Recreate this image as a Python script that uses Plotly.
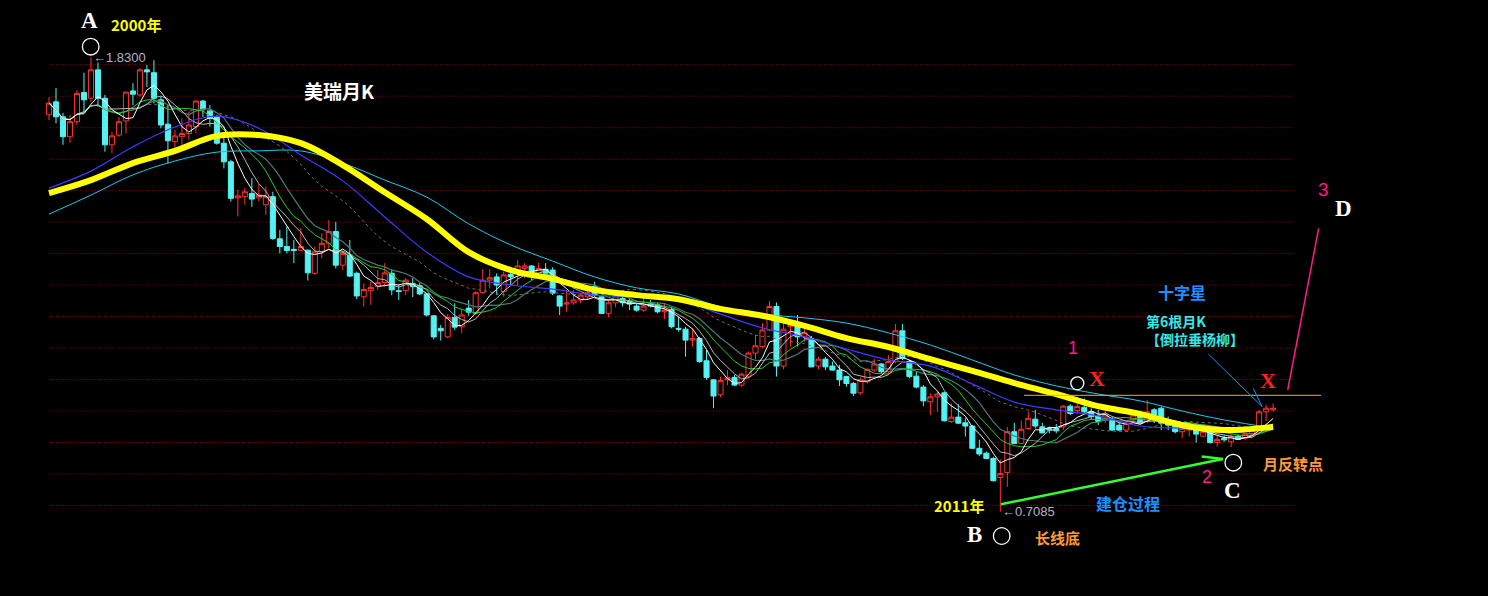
import plotly.graph_objects as go
import pandas as pd

# ---------------- data (USD/CHF monthly) ----------------
opens = [1.688,1.720,1.683,1.634,1.671,1.743,1.729,1.799,1.729,1.614,
         1.638,1.673,1.747,1.737,1.799,1.792,1.725,1.665,1.622,1.634,
         1.642,1.659,1.722,1.698,1.683,1.618,1.572,1.483,1.486,1.494,
         1.483,1.466,1.486,1.382,1.363,1.356,1.354,1.354,1.297,1.350,
         1.371,1.400,1.317,1.342,1.297,1.239,1.254,1.264,1.274,1.297,
         1.254,1.254,1.272,1.266,1.246,1.192,1.161,1.140,1.188,1.165,
         1.211,1.198,1.249,1.280,1.288,1.252,1.294,1.298,1.309,1.315,
         1.293,1.307,1.305,1.241,1.221,1.224,1.231,1.239,1.264,1.239,
         1.198,1.224,1.235,1.227,1.216,1.206,1.221,1.219,1.202,1.208,
         1.161,1.159,1.132,1.136,1.081,1.034,0.997,1.034,1.040,1.021,
         1.043,1.100,1.116,1.157,1.215,1.068,1.165,1.167,1.140,1.136,
         1.068,1.085,1.068,1.058,1.042,1.025,1.002,1.029,1.058,1.073,
         1.054,1.079,1.155,1.079,1.043,1.016,0.980,0.992,1.002,0.931,
         0.942,0.928,0.920,0.865,0.853,0.840,0.793,0.805,0.906,0.877,
         0.914,0.937,0.918,0.914,0.914,0.918,0.969,0.958,0.966,0.955,
         0.945,0.935,0.935,0.922,0.910,0.935,0.947,0.931,0.960,0.964,
         0.931,0.920,0.906,0.910,0.910,0.895,0.906,0.879,0.890,0.881,
         0.895,0.890,0.900,0.918,0.955,0.960]
highs = [1.732,1.754,1.693,1.688,1.749,1.792,1.830,1.817,1.737,1.646,
         1.683,1.745,1.766,1.803,1.811,1.823,1.733,1.712,1.651,1.679,
         1.696,1.725,1.725,1.712,1.688,1.638,1.577,1.503,1.507,1.532,
         1.517,1.511,1.498,1.404,1.412,1.379,1.409,1.356,1.363,1.396,
         1.428,1.424,1.354,1.379,1.301,1.272,1.276,1.305,1.322,1.307,
         1.268,1.285,1.285,1.274,1.248,1.194,1.169,1.196,1.223,1.208,
         1.231,1.252,1.307,1.307,1.297,1.301,1.301,1.330,1.322,1.317,
         1.323,1.322,1.312,1.243,1.256,1.256,1.248,1.256,1.276,1.243,
         1.231,1.243,1.243,1.235,1.221,1.235,1.231,1.224,1.224,1.213,
         1.190,1.165,1.161,1.140,1.108,1.036,1.042,1.058,1.046,1.051,
         1.104,1.145,1.174,1.229,1.225,1.174,1.182,1.194,1.161,1.142,
         1.091,1.090,1.079,1.071,1.044,1.029,1.040,1.062,1.085,1.075,
         1.095,1.172,1.172,1.083,1.054,1.021,1.001,1.005,1.005,0.976,
         0.974,0.939,0.922,0.886,0.857,0.844,0.838,0.918,0.928,0.933,
         0.955,0.960,0.928,0.918,0.925,0.972,0.974,0.992,0.988,0.964,
         0.960,0.960,0.943,0.927,0.931,0.951,0.955,0.984,0.964,0.968,
         0.943,0.922,0.920,0.927,0.918,0.914,0.910,0.895,0.898,0.900,
         0.900,0.906,0.915,0.960,0.972,0.976]
lows = [1.675,1.667,1.614,1.619,1.663,1.692,1.720,1.708,1.597,1.593,
        1.634,1.642,1.712,1.733,1.757,1.716,1.655,1.568,1.605,1.614,
        1.626,1.642,1.683,1.659,1.614,1.556,1.474,1.437,1.466,1.461,
        1.474,1.441,1.379,1.346,1.346,1.322,1.352,1.279,1.293,1.334,
        1.359,1.309,1.305,1.288,1.233,1.215,1.219,1.256,1.264,1.243,
        1.231,1.243,1.238,1.243,1.190,1.134,1.131,1.137,1.157,1.149,
        1.192,1.194,1.246,1.260,1.243,1.239,1.268,1.268,1.285,1.280,
        1.288,1.288,1.243,1.194,1.202,1.219,1.223,1.231,1.239,1.196,
        1.188,1.213,1.215,1.206,1.202,1.202,1.213,1.198,1.184,1.161,
        1.153,1.091,1.116,1.076,1.034,0.964,0.991,1.021,1.019,1.017,
        1.038,1.085,1.112,1.155,1.042,1.060,1.116,1.116,1.128,1.065,
        1.060,1.058,1.057,1.019,1.017,0.994,0.997,1.025,1.054,1.050,
        1.046,1.075,1.083,1.038,1.013,0.969,0.947,0.955,0.931,0.928,
        0.925,0.894,0.863,0.846,0.838,0.783,0.7085,0.770,0.876,0.876,
        0.910,0.914,0.902,0.902,0.902,0.910,0.947,0.951,0.951,0.935,
        0.922,0.927,0.908,0.908,0.906,0.927,0.925,0.927,0.927,0.910,
        0.910,0.902,0.890,0.894,0.879,0.892,0.877,0.869,0.881,0.868,
        0.886,0.886,0.895,0.914,0.932,0.955]
closes = [1.717,1.683,1.634,1.671,1.741,1.725,1.799,1.729,1.614,1.636,
          1.671,1.744,1.739,1.799,1.794,1.729,1.663,1.624,1.636,1.642,
          1.663,1.722,1.702,1.679,1.618,1.572,1.482,1.488,1.498,1.480,
          1.490,1.486,1.383,1.363,1.353,1.353,1.363,1.298,1.350,1.371,
          1.400,1.317,1.346,1.290,1.241,1.257,1.262,1.274,1.298,1.256,
          1.252,1.280,1.264,1.246,1.194,1.140,1.155,1.188,1.164,1.194,
          1.201,1.249,1.280,1.286,1.268,1.293,1.288,1.315,1.315,1.297,
          1.309,1.297,1.248,1.216,1.224,1.231,1.243,1.249,1.243,1.198,
          1.224,1.241,1.224,1.221,1.206,1.216,1.216,1.202,1.206,1.165,
          1.159,1.132,1.136,1.079,1.040,0.994,1.032,1.040,1.021,1.048,
          1.100,1.118,1.157,1.215,1.068,1.159,1.169,1.140,1.150,1.066,
          1.085,1.066,1.058,1.034,1.025,1.001,1.034,1.060,1.073,1.054,
          1.079,1.155,1.087,1.042,1.016,0.982,0.992,0.999,0.933,0.942,
          0.927,0.920,0.865,0.851,0.840,0.785,0.803,0.906,0.877,0.912,
          0.939,0.920,0.903,0.910,0.908,0.969,0.951,0.968,0.955,0.943,
          0.931,0.947,0.910,0.910,0.927,0.947,0.927,0.955,0.947,0.927,
          0.922,0.906,0.914,0.914,0.900,0.906,0.879,0.887,0.886,0.895,
          0.887,0.900,0.910,0.955,0.964,0.964]

ma_idx = [0, 6, 12, 18, 24, 30, 36, 42, 48, 54, 60, 66, 72, 78, 84, 90, 96, 102,
          108, 114, 120, 126, 132, 138, 144, 150, 156, 162, 168, 175]
ma_yellow = [1.495, 1.527, 1.569, 1.599, 1.636, 1.638, 1.618, 1.564, 1.497, 1.431,
             1.349, 1.305, 1.283, 1.256, 1.243, 1.233, 1.209, 1.192, 1.167, 1.137,
             1.115, 1.085, 1.056, 1.026, 0.999, 0.969, 0.950, 0.922, 0.910, 0.918]
ma_blue = [1.507, 1.549, 1.609, 1.658, 1.685, 1.655, 1.589, 1.525, 1.436, 1.349,
           1.288, 1.268, 1.258, 1.243, 1.238, 1.231, 1.196, 1.162, 1.140, 1.110,
           1.083, 1.068, 1.024, 0.979, 0.960, 0.945, 0.920, 0.915, 0.915, 0.918]
ma_cyan = [1.443, 1.490, 1.540, 1.574, 1.596, 1.599, 1.599, 1.569, 1.527, 1.485,
           1.419, 1.367, 1.327, 1.288, 1.261, 1.246, 1.214, 1.196, 1.187, 1.174,
           1.150, 1.120, 1.083, 1.046, 1.019, 0.999, 0.982, 0.957, 0.935, 0.915]

idx = list(range(len(closes)))
cs = pd.Series(closes)
short_mas = [  # (period, colour, width, dash)
    (24, "#6e6e6e", 1, "dot"),
    (13, "#4d7878", 1.2, "solid"),
    (10, "#1fd21f", 1, "solid"),
    (7, "#b8b8b8", 1, "solid"),
    (5, "#ffffff", 1, "solid"),
]

W, H = 1488, 596
def px(x):
    return x / W
def py(y):
    return 1 - y / H

fig = go.Figure()

fig.add_trace(go.Candlestick(
    x=idx, open=opens, high=highs, low=lows, close=closes,
    increasing=dict(line=dict(color="#ff3232", width=1), fillcolor="#000000"),
    decreasing=dict(line=dict(color="#54f2f2", width=1), fillcolor="#54f2f2"),
    whiskerwidth=0, showlegend=False, hoverinfo="skip"))

for per, col, wd, ds in short_mas:
    fig.add_trace(go.Scatter(x=idx, y=cs.rolling(per, min_periods=1).mean(),
                             mode="lines", line=dict(color=col, width=wd, dash=ds),
                             showlegend=False, hoverinfo="skip"))

fig.add_trace(go.Scatter(x=ma_idx, y=ma_cyan, mode="lines",
                         line=dict(color="#22c8ee", width=1, shape="spline"),
                         showlegend=False, hoverinfo="skip"))
fig.add_trace(go.Scatter(x=ma_idx, y=ma_blue, mode="lines",
                         line=dict(color="#3c3cff", width=1.2, shape="spline"),
                         showlegend=False, hoverinfo="skip"))
fig.add_trace(go.Scatter(x=ma_idx, y=ma_yellow, mode="lines",
                         line=dict(color="#ffff00", width=6, shape="spline"),
                         showlegend=False, hoverinfo="skip"))

# ---------------- grid (dotted dark red) ----------------
GRID_TOP, GRID_STEP, GRID_N = 1.8117, 0.0777, 15
shapes = []
for k in range(GRID_N):
    yv = GRID_TOP - k * GRID_STEP
    shapes.append(dict(type="line", xref="x", yref="y", x0=0.1, x1=178, y0=yv, y1=yv,
                       line=dict(color="#a00000", width=1, dash="1px,2px"), layer="below"))

def seg(x0, y0, x1, y1, color, width=1, dash="solid"):
    shapes.append(dict(type="line", xref="paper", yref="paper",
                       x0=px(x0), y0=py(y0), x1=px(x1), y1=py(y1),
                       line=dict(color=color, width=width, dash=dash)))

def circ(cx, cy, r):
    shapes.append(dict(type="circle", xref="paper", yref="paper",
                       x0=px(cx - r), x1=px(cx + r), y0=py(cy + r), y1=py(cy - r),
                       line=dict(color="#ffffff", width=1.3)))

seg(1024, 395.3, 1321, 395.3, "#ffa040", 1)             # resistance line
seg(1318.7, 228.3, 1287.7, 390, "#ff1a8c", 1.5)          # pink target line
seg(1208.3, 354, 1262, 406.5, "#1e90ff", 1)              # pointer
seg(1253.3, 388.3, 1262, 406.5, "#1e90ff", 1)
seg(1001, 504.3, 1223, 459, "#33ff33", 2.5)              # green trend arrow
seg(1201.7, 456.5, 1223, 459, "#33ff33", 2.5)
circ(90.7, 46.7, 8.3)
circ(1077.3, 383.3, 6.5)
circ(1233.3, 462.7, 8.3)
circ(1001.7, 536, 8.3)

CJK = "Noto Sans CJK SC"
SERIF = "Liberation Serif"
ann = []
def txt(x, y, s, color, size, font=CJK, anchor="center"):
    ann.append(dict(x=px(x), y=py(y), xref="paper", yref="paper", text=s,
                    showarrow=False, xanchor=anchor, yanchor="middle", align="left",
                    font=dict(family=font, size=size, color=color)))

txt(89, 20.5, "<b>A</b>", "#ffffff", 23, SERIF)
txt(136, 24.5, "<b>2000年</b>", "#ffff00", 15)
txt(339, 90, "<b>美瑞月K</b>", "#ffffff", 19)
txt(1323, 189, "3", "#ff1a8c", 19, "Liberation Sans")
txt(1343, 208.5, "<b>D</b>", "#ffffff", 23, SERIF)
txt(1182, 292, "<b>十字星</b>", "#1e90ff", 16)
txt(1144, 330, "<b>第6根月K</b><br><b>【倒拉垂杨柳】</b>", "#33e8e8", 14, CJK, "left")
txt(1096.7, 378.3, "<b>X</b>", "#ff2020", 22, SERIF)
txt(1268.3, 380.7, "<b>X</b>", "#ff2020", 22, SERIF)
txt(1073.3, 348.3, "1", "#ff1a8c", 18, "Liberation Sans")
txt(1207.3, 477.3, "2", "#ff1a8c", 18, "Liberation Sans")
txt(1232.7, 490.7, "<b>C</b>", "#ffffff", 23, SERIF)
txt(1261, 463.3, "<b>月反转点</b>", "#ff9933", 15, CJK, "left")
txt(1127.5, 503.3, "<b>建仓过程</b>", "#1e90ff", 16)
txt(959, 505, "<b>2011年</b>", "#ffff00", 15)
txt(974, 534.3, "<b>B</b>", "#ffffff", 23, SERIF)
txt(1057.5, 537.3, "<b>长线底</b>", "#ff9933", 15)

# extreme value labels tied to the data
i_hi = max(idx, key=lambda i: highs[i])
i_lo = min(idx, key=lambda i: lows[i])
for i_e, v in ((i_hi, highs[i_hi]), (i_lo, lows[i_lo])):
    ann.append(dict(x=i_e, y=v, xref="x", yref="y", text="←%.4f" % v, showarrow=False,
                    xanchor="left", yanchor="middle", xshift=0,
                    font=dict(family="Liberation Sans", size=13, color="#b4b4c8")))

fig.update_layout(
    width=W, height=H, margin=dict(l=0, r=0, t=0, b=0),
    paper_bgcolor="#000000", plot_bgcolor="#000000",
    boxgap=0.28, boxgroupgap=0,
    shapes=shapes, annotations=ann, showlegend=False,
    xaxis=dict(range=[-49 / 6.995, (W - 49) / 6.995], showgrid=False, zeroline=False,
               showticklabels=False, rangeslider=dict(visible=False), fixedrange=True),
    yaxis=dict(range=[0.5005, 1.9714], showgrid=False, zeroline=False,
               showticklabels=False, fixedrange=True),
)

fig.write_html("out.html", config={"displayModeBar": False},
               post_script="document.body.style.margin='0';document.body.style.padding='0';"
                           "document.body.style.overflow='hidden';"
                           "document.body.style.background='#000';")
